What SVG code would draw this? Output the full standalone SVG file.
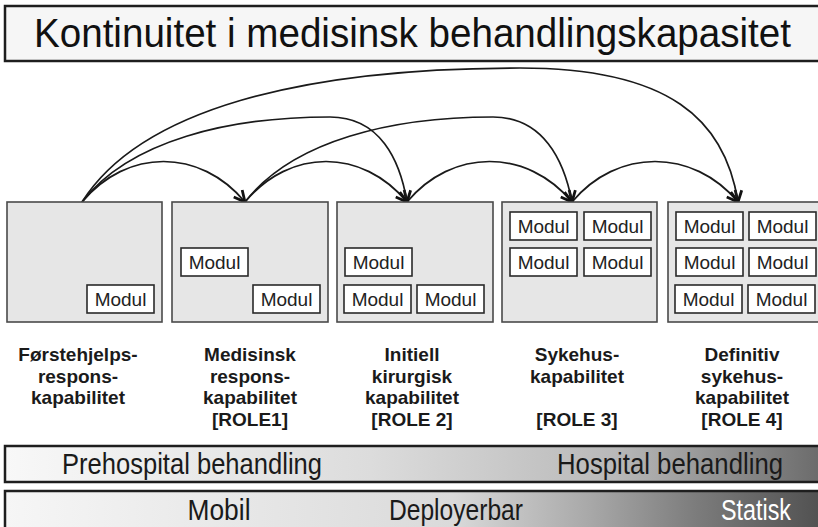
<svg xmlns="http://www.w3.org/2000/svg" xmlns:xlink="http://www.w3.org/1999/xlink" width="818" height="527" viewBox="0 0 818 527">
  <style>
    .cap { fill: #e6e6e6; stroke: #4a4a4a; stroke-width: 1.6; }
    .mod { fill: #ffffff; stroke: #2a2a2a; stroke-width: 1.6; }
    .modt { font-family: "Liberation Sans", Arial, sans-serif; font-size: 19px; fill: #222; text-anchor: middle; }
    .lbl { font-family: "Liberation Sans", Arial, sans-serif; font-size: 19px; font-weight: bold; fill: #1a1a1a; text-anchor: middle; }
    .bar { stroke: #1e1e1e; stroke-width: 2.5; }
    .bart { font-family: "Liberation Sans", Arial, sans-serif; font-size: 29px; fill: #1a1a1a; }
    .bart.light { fill: #ffffff; }
    .arc { fill: none; stroke: #1a1a1a; stroke-width: 1.7; marker-end: url(#vhead); }
  </style>
  <defs>
    <marker id="vhead" viewBox="0 0 14 14" refX="12.5" refY="7" markerWidth="14" markerHeight="14" markerUnits="userSpaceOnUse" orient="auto">
      <path d="M1.5,1.5 L12.5,7 L1.5,12.5" fill="none" stroke="#111" stroke-width="2.8" stroke-linejoin="miter"/>
    </marker>
    <linearGradient id="gTreat" x1="5" y1="0" x2="818" y2="0" gradientUnits="userSpaceOnUse">
      <stop offset="0" stop-color="#f8f8f8"/>
      <stop offset="0.45" stop-color="#dcdcdc"/>
      <stop offset="0.75" stop-color="#b9b9b9"/>
      <stop offset="1" stop-color="#6c6c6c"/>
    </linearGradient>
    <linearGradient id="gMob" x1="5" y1="0" x2="818" y2="0" gradientUnits="userSpaceOnUse">
      <stop offset="0" stop-color="#f6f6f6"/>
      <stop offset="0.55" stop-color="#dadada"/>
      <stop offset="0.72" stop-color="#a8a8a8"/>
      <stop offset="0.85" stop-color="#7c7c7c"/>
      <stop offset="1" stop-color="#525252"/>
    </linearGradient>
    <g id="modul">
      <rect class="mod" x="0" y="0" width="67" height="28"/>
      <text class="modt" x="33.5" y="21">Modul</text>
    </g>
  </defs>

  <rect width="818" height="527" fill="#ffffff"/>

  <!-- Title -->
  <g id="title">
    <rect x="5" y="6" width="830" height="55" fill="#f6f6f6" stroke="#1e1e1e" stroke-width="2.5"/>
    <text x="34" y="47" font-family="Liberation Sans, Arial, sans-serif" font-size="40" fill="#111" textLength="757" lengthAdjust="spacingAndGlyphs">Kontinuitet i medisinsk behandlingskapasitet</text>
  </g>

  <!-- Connectors -->
  <g id="connectors">
    <path class="arc" d="M82,202 C127,148 200,148 245,202"/>
    <path class="arc" d="M245,202 C290,148 362,148 407,202"/>
    <path class="arc" d="M407,202 C452,148 527,148 572,202"/>
    <path class="arc" d="M572,202 C617,148 693,148 738,202"/>
    <path class="arc" d="M82,202 C130,140 230,117 330,117 C380,117 400,160 407,202"/>
    <path class="arc" d="M245,202 C293,140 393,117 493,117 C543,117 564,160 572,202"/>
    <path class="arc" d="M82,202 C140,110 300,68 520,68 C670,68 725,120 738,202"/>
  </g>

  <!-- Capability 1 -->
  <g id="cap1">
    <rect class="cap" x="7" y="202" width="155" height="120"/>
    <use xlink:href="#modul" x="87" y="285"/>
    <text class="lbl" x="78" y="361">Førstehjelps-</text>
    <text class="lbl" x="78" y="382.5">respons-</text>
    <text class="lbl" x="78" y="404">kapabilitet</text>
  </g>

  <!-- Capability 2 -->
  <g id="cap2">
    <rect class="cap" x="172" y="202" width="156" height="120"/>
    <use xlink:href="#modul" x="181" y="248"/>
    <use xlink:href="#modul" x="253" y="285"/>
    <text class="lbl" x="250" y="361">Medisinsk</text>
    <text class="lbl" x="250" y="382.5">respons-</text>
    <text class="lbl" x="250" y="404">kapabilitet</text>
    <text class="lbl" x="250" y="425.5">[ROLE1]</text>
  </g>

  <!-- Capability 3 -->
  <g id="cap3">
    <rect class="cap" x="337" y="202" width="156" height="120"/>
    <use xlink:href="#modul" x="345" y="248"/>
    <use xlink:href="#modul" x="344" y="285"/>
    <use xlink:href="#modul" x="417" y="285"/>
    <text class="lbl" x="412" y="361">Initiell</text>
    <text class="lbl" x="412" y="382.5">kirurgisk</text>
    <text class="lbl" x="412" y="404">kapabilitet</text>
    <text class="lbl" x="412" y="425.5">[ROLE 2]</text>
  </g>

  <!-- Capability 4 -->
  <g id="cap4">
    <rect class="cap" x="502" y="202" width="155" height="120"/>
    <use xlink:href="#modul" x="510" y="212"/>
    <use xlink:href="#modul" x="584" y="212"/>
    <use xlink:href="#modul" x="510" y="248"/>
    <use xlink:href="#modul" x="584" y="248"/>
    <text class="lbl" x="577" y="361">Sykehus-</text>
    <text class="lbl" x="577" y="382.5">kapabilitet</text>
    <text class="lbl" x="577" y="425.5">[ROLE 3]</text>
  </g>

  <!-- Capability 5 -->
  <g id="cap5">
    <rect class="cap" x="668" y="202" width="165" height="120"/>
    <use xlink:href="#modul" x="676" y="212"/>
    <use xlink:href="#modul" x="749" y="212"/>
    <use xlink:href="#modul" x="676" y="248"/>
    <use xlink:href="#modul" x="749" y="248"/>
    <use xlink:href="#modul" x="675" y="285"/>
    <use xlink:href="#modul" x="748" y="285"/>
    <text class="lbl" x="742" y="361">Definitiv</text>
    <text class="lbl" x="742" y="382.5">sykehus-</text>
    <text class="lbl" x="742" y="404">kapabilitet</text>
    <text class="lbl" x="742" y="425.5">[ROLE 4]</text>
  </g>

  <!-- Treatment band -->
  <g id="treatment">
    <rect class="bar" x="5" y="446" width="830" height="36" fill="url(#gTreat)"/>
    <text class="bart" x="62" y="474" textLength="260" lengthAdjust="spacingAndGlyphs">Prehospital behandling</text>
    <text class="bart" x="557" y="474" textLength="226" lengthAdjust="spacingAndGlyphs">Hospital behandling</text>
  </g>

  <!-- Mobility band -->
  <g id="mobility">
    <rect class="bar" x="5" y="491" width="830" height="45" fill="url(#gMob)"/>
    <text class="bart" x="219" y="520" text-anchor="middle" textLength="63" lengthAdjust="spacingAndGlyphs">Mobil</text>
    <text class="bart" x="456" y="520" text-anchor="middle" textLength="134" lengthAdjust="spacingAndGlyphs">Deployerbar</text>
    <text class="bart light" x="756" y="520" text-anchor="middle" textLength="70" lengthAdjust="spacingAndGlyphs">Statisk</text>
  </g>
</svg>
